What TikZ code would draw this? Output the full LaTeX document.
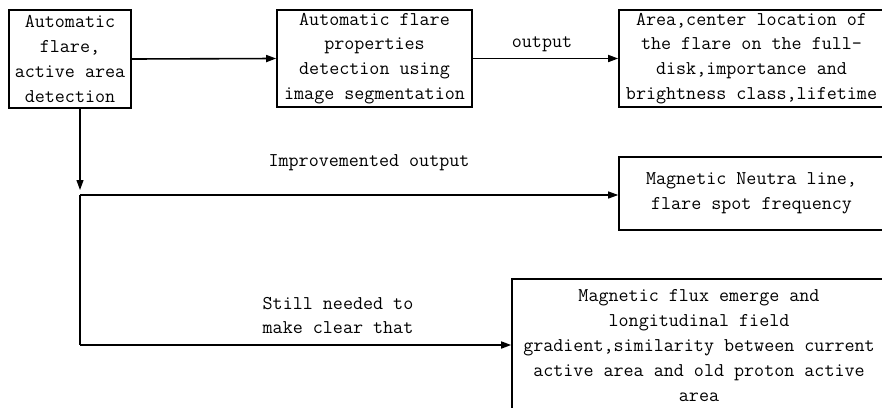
\documentclass[tikz,border=0pt]{standalone}
\usepackage{fontspec}
\usetikzlibrary{arrows.meta}
\newcommand{\figfont}{\ttfamily\fontsize{19.5}{24.8}\selectfont}
\begin{document}
\begin{tikzpicture}[x=1pt,y=-1pt,
  box/.style={draw,line width=1.6pt,inner sep=0pt,align=center,font=\figfont},
  lbl/.style={inner sep=0pt,font=\figfont},
  arr/.style={line width=1.6pt,-{Triangle[length=10pt,width=7pt]}},
  thinarr/.style={line width=1.1pt,-{Triangle[length=10pt,width=7pt]}},
  thinline/.style={line width=1.1pt}]
\fill[white] (0,0) rectangle (882,407);
\useasboundingbox (0,0) rectangle (882,407);

\node[box,minimum width=122pt,minimum height=98pt] (A) at (70,59)
  {Automatic\\flare,\\active area\\detection};
\node[box,minimum width=195pt,minimum height=97pt] (B) at (374.5,58.5)
  {Automatic flare\\properties\\detection using\\image segmentation};
\node[box,minimum width=265pt,minimum height=97pt] (C) at (751.5,58.5)
  {Area,center location of\\the flare on the full-\\disk,importance and\\brightness class,lifetime};
\node[box,minimum width=265pt,minimum height=73pt] (D) at (751.5,193.5)
  {Magnetic Neutra line,\\flare spot frequency};
\node[box,minimum width=374pt,minimum height=133pt] (E) at (699,345.5)
  {Magnetic flux emerge and\\longitudinal field\\gradient,similarity between current\\active area and old proton active\\area};

\node[lbl] (lout) at (542,44) {output};
\node[lbl] (limp) at (369,163) {Improvemented output};
\node[lbl,align=left] (lstill) at (338,315.5) {Still needed to\\make clear that};

\coordinate (j1) at (80,195);
\coordinate (j2) at (80,345);

\draw[arr] (A.east) -- (B.west);
\draw[arr] (B.east) -- (C.west);
\draw[thinarr] (A.south -| j1) -- ([yshift=5pt]j1);
\draw[thinline] (j1) -- (j2);
\draw[thinarr] (j1) -- (j1 -| D.west);
\draw[arr] (j2) -- (j2 -| E.west);
\end{tikzpicture}
\end{document}
